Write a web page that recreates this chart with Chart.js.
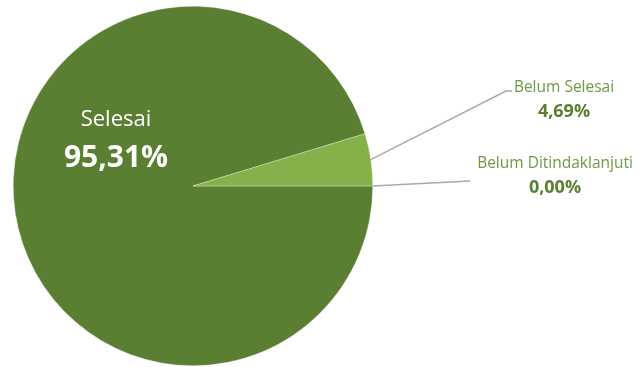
<!DOCTYPE html>
<html>
<head>
<meta charset="utf-8">
<script src="https://cdn.jsdelivr.net/npm/chart.js@4.4.1/dist/chart.umd.min.js"></script>
<style>
  html, body { margin: 0; padding: 0; background: #fff; }
  #wrap { width: 644px; height: 367px; position: relative; }
</style>
</head>
<body>
<div id="wrap"><canvas id="chart"></canvas></div>
<script>
const categories = ['Selesai', 'Belum Selesai', 'Belum Ditindaklanjuti'];
const values = [95.31, 4.69, 0.00];
const sliceColors = ['#5a7f32', '#86b04a', '#5a7f32'];

const fmt = v => v.toFixed(2).replace('.', ',') + '%';

// label placement, relative to the pie centre
const labelStyle = [
  { inside: true, dx: -77, dy: -66 },
  { elbow: [313, -95], end: [319, -95], tx: 371, ty: -98 },
  { elbow: [277, -5], end: [277, -5], tx: 362, ty: -22 }
];

const labelPlugin = {
  id: 'pieLabels',
  afterDatasetsDraw(chart) {
    const ctx = chart.ctx;
    const meta = chart.getDatasetMeta(0);
    meta.data.forEach((arc, i) => {
      const s = labelStyle[i];
      const cx = arc.x, cy = arc.y;
      ctx.save();
      ctx.textAlign = 'center';
      ctx.textBaseline = 'middle';
      if (s.inside) {
        ctx.fillStyle = '#ffffff';
        ctx.font = '22px "Open Sans"';
        ctx.fillText(categories[i], cx + s.dx, cy + s.dy);
        ctx.font = 'bold 30px "Open Sans"';
        ctx.fillText(fmt(values[i]), cx + s.dx, cy + s.dy + 38);
      } else {
        const mid = (arc.startAngle + arc.endAngle) / 2;
        const r = arc.outerRadius;
        const sx = cx + Math.cos(mid) * r, sy = cy + Math.sin(mid) * r;
        ctx.strokeStyle = '#a9a9a9';
        ctx.lineWidth = 1.5;
        ctx.beginPath();
        ctx.moveTo(sx, sy);
        ctx.lineTo(cx + s.elbow[0], cy + s.elbow[1]);
        ctx.lineTo(cx + s.end[0], cy + s.end[1]);
        ctx.stroke();
        ctx.fillStyle = '#6d9a45';
        ctx.font = '15.5px "Open Sans"';
        ctx.fillText(categories[i], cx + s.tx, cy + s.ty);
        ctx.fillStyle = '#5a7f32';
        ctx.font = 'bold 18px "Open Sans"';
        ctx.fillText(fmt(values[i]), cx + s.tx, cy + s.ty + 24);
      }
      ctx.restore();
    });
  }
};

new Chart(document.getElementById('chart'), {
  type: 'pie',
  data: {
    labels: categories,
    datasets: [{
      data: values,
      backgroundColor: sliceColors,
      borderColor: 'rgba(255,255,255,0.6)',
      borderWidth: 0.5
    }]
  },
  options: {
    responsive: true,
    maintainAspectRatio: false,
    animation: false,
    rotation: 90,
    layout: { padding: { left: 13, right: 271, top: 6, bottom: 1 } },
    plugins: {
      legend: { display: false },
      tooltip: { enabled: false }
    }
  },
  plugins: [labelPlugin]
});
</script>
</body>
</html>
